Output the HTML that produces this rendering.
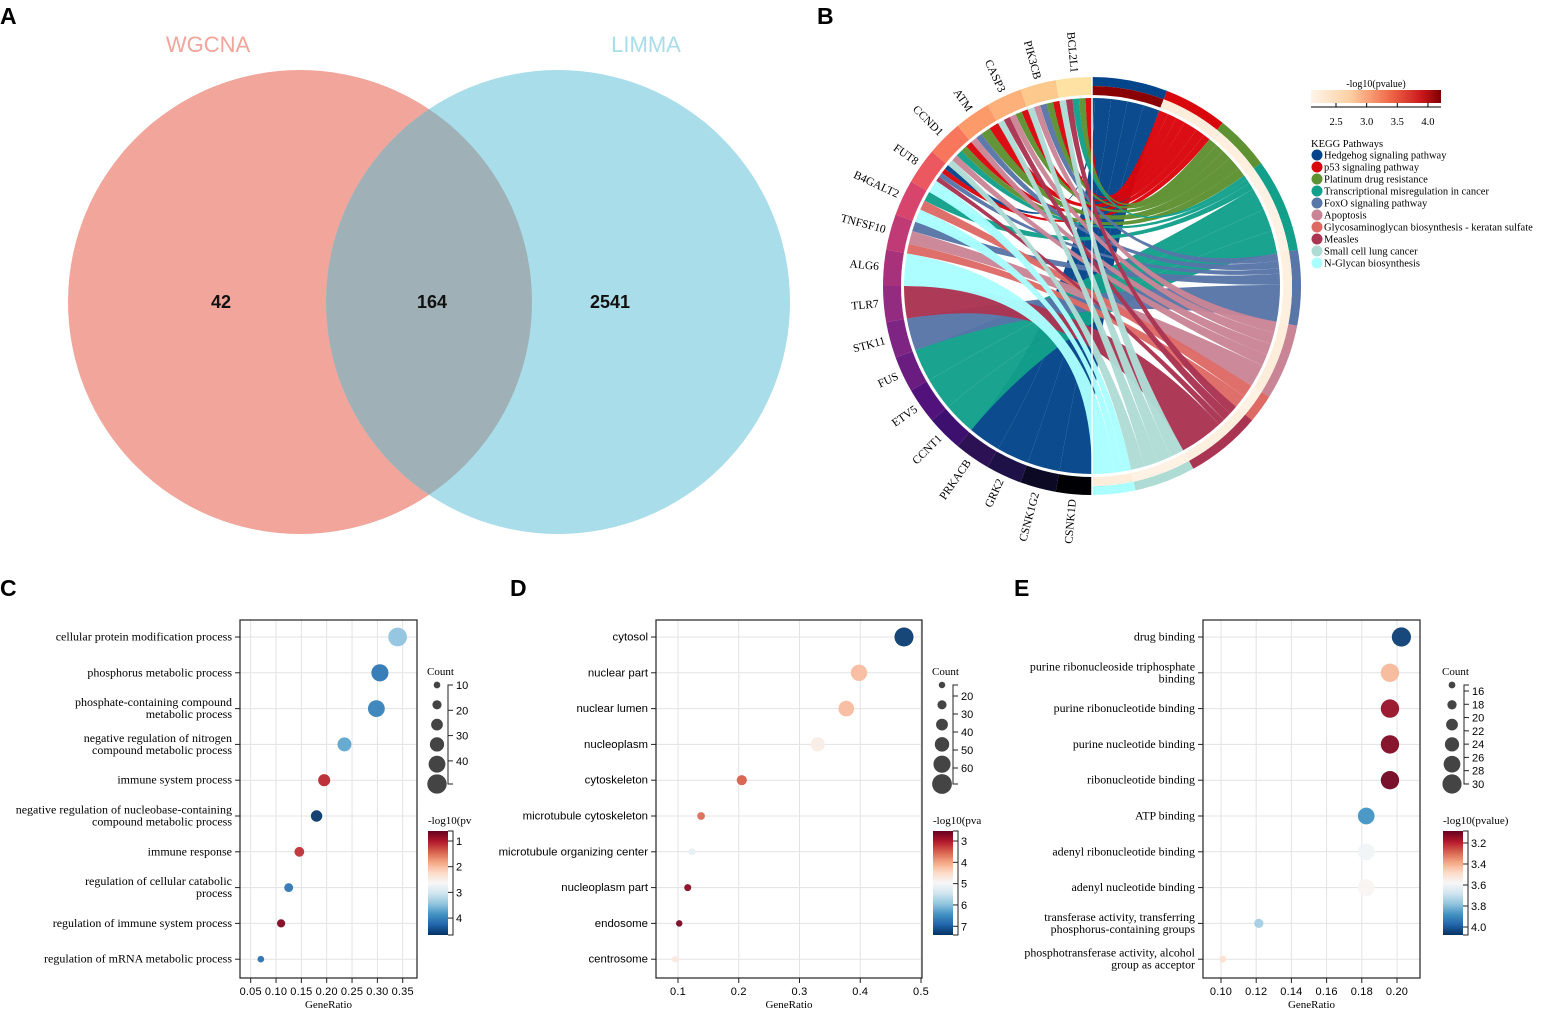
<!DOCTYPE html>
<html><head><meta charset="utf-8">
<style>
html,body{margin:0;padding:0;background:#fff;}
svg{display:block;}
.serif{font-family:"Liberation Serif",serif;}
.sans{font-family:"Liberation Sans",sans-serif;}
</style></head>
<body>
<svg id="fig" width="1549" height="1012" viewBox="0 0 1549 1012" xmlns="http://www.w3.org/2000/svg">
<defs>
<clipPath id="leftClip"><circle cx="300" cy="302" r="232"/></clipPath>
<linearGradient id="rdbuGrad" x1="0" y1="0" x2="0" y2="1">
<stop offset="0" stop-color="#67001f"/><stop offset="0.1" stop-color="#b2182b"/><stop offset="0.2" stop-color="#d6604d"/><stop offset="0.3" stop-color="#f4a582"/><stop offset="0.4" stop-color="#fddbc7"/><stop offset="0.5" stop-color="#f7f7f7"/><stop offset="0.6" stop-color="#d1e5f0"/><stop offset="0.7" stop-color="#92c5de"/><stop offset="0.8" stop-color="#4393c3"/><stop offset="0.9" stop-color="#2166ac"/><stop offset="1" stop-color="#053061"/>
</linearGradient>
<linearGradient id="redsGrad" x1="0" y1="0" x2="1" y2="0">
<stop offset="0" stop-color="#fff5eb"/><stop offset="0.3" stop-color="#fdd0a2"/><stop offset="0.6" stop-color="#f16b4a"/><stop offset="0.85" stop-color="#cb181d"/><stop offset="1" stop-color="#7f0000"/>
</linearGradient>
</defs>

<text x="0" y="24" class="sans" font-size="23" font-weight="bold">A</text>
<text x="817" y="24" class="sans" font-size="23" font-weight="bold">B</text>
<text x="0" y="596" class="sans" font-size="23" font-weight="bold">C</text>
<text x="510" y="596" class="sans" font-size="23" font-weight="bold">D</text>
<text x="1014" y="596" class="sans" font-size="23" font-weight="bold">E</text>

<g>
<circle cx="300" cy="302" r="232" fill="#f1a59b"/>
<circle cx="558" cy="302" r="232" fill="#a8dde9"/>
<circle cx="558" cy="302" r="232" fill="#9fb1b6" clip-path="url(#leftClip)"/>
<text x="208" y="52" text-anchor="middle" class="sans" font-size="22" fill="#f1a59b">WGCNA</text>
<text x="646" y="52" text-anchor="middle" class="sans" font-size="22" fill="#a8dde9">LIMMA</text>
<text x="221" y="308" text-anchor="middle" class="sans" font-size="18" font-weight="bold" fill="#111">42</text>
<text x="432" y="308" text-anchor="middle" class="sans" font-size="18" font-weight="bold" fill="#111">164</text>
<text x="610" y="308" text-anchor="middle" class="sans" font-size="18" font-weight="bold" fill="#111">2541</text>
</g>

<g id="chord"></g>
<g id="chordLegend">
<text x="1376" y="87" text-anchor="middle" class="serif" font-size="10">-log10(pvalue)</text>
<rect x="1311" y="90" width="130" height="13" fill="url(#redsGrad)"/>
</g>
<g id="panelC"></g>
<g id="panelD"></g>
<g id="panelE"></g>
</svg>

<script>
// ---------- Chord data ----------
const geneNames = ["CSNK1D","CSNK1G2","GRK2","PRKACB","CCNT1","ETV5","FUS","STK11","TLR7","ALG6","TNFSF10","B4GALT2","FUT8","CCND1","ATM","CASP3","PIK3CB","BCL2L1"];
const geneColors = ["#000004","#0b0924","#1d1147","#2d1155","#3d0f6e","#51127c","#6a1c81","#7e2482","#932b80","#a8317c","#c03a76","#d8456c","#ec5860","#f8765c","#fd9a6a","#feb07a","#fec98d","#fde2a4"];
const pathwayNames = ["Hedgehog signaling pathway","p53 signaling pathway","Platinum drug resistance","Transcriptional misregulation in cancer","FoxO signaling pathway","Apoptosis","Glycosaminoglycan biosynthesis - keratan sulfate","Measles","Small cell lung cancer","N-Glycan biosynthesis"];
const pathwayColors = ["#03458a","#d9060c","#5e9132","#13a08b","#5876a8","#c98596","#de6a66","#aa3553","#aedcd5","#aaffff"];
const pathwaySpan = [21,17.7,15.3,26,21,21,8,21,17,12];
const pathwayLogP = [4.2,2.3,2.25,2.2,2.25,2.3,2.2,2.25,2.2,2.3];
const linkGene =    [0,1,2,3,4,5,6,7,8,9, 10,10,10, 11,11,11, 12,12,12,12,12, 13,13,13,13,13, 14,14,14,14, 15,15,15,15,15, 16,16,16,16,16, 17,17,17,17,17];
const linkPathway = [0,0,0,0,3,3,3,4,7,9, 6,5,4, 9,6,3, 0,1,4,7,9, 1,2,3,5,8, 1,2,4,5, 1,2,5,7,8, 1,2,4,5,8, 1,2,3,7,8];
const linkWeight =  [10,10,10,10,10,10,10,10,10,10, 3,4,3, 4,3,3, 1.5,1.5,1.5,1.5,4, 2,2,2,2,2, 3,3,2,2, 2,2,2,2,2, 2,2,2,2,2, 2,2,2,2,2];

// ---------- Dot plot data ----------
const cTerms = ["cellular protein modification process","phosphorus metabolic process","phosphate-containing compound\nmetabolic process","negative regulation of nitrogen\ncompound metabolic process","immune system process","negative regulation of nucleobase-containing\ncompound metabolic process","immune response","regulation of cellular catabolic\nprocess","regulation of immune system process","regulation of mRNA metabolic process"];
const cRatio = [0.340,0.305,0.298,0.235,0.195,0.180,0.146,0.125,0.110,0.070];
const cCount = [48,43,42,33,27,25,20,17,15,10];
const cLogP = [3.45,4.1,4.0,3.7,1.1,4.6,1.15,4.1,0.75,4.15];
const cXTicks = [0.05,0.10,0.15,0.20,0.25,0.30,0.35];
const cXTickLabels = ["0.05","0.10","0.15","0.20","0.25","0.30","0.35"];
const cCountTicks = [10,20,30,40];
const cLegendCounts = [10,18,26,34,42,50];
const cColorTicks = [1,2,3,4];

const dTerms = ["cytosol","nuclear part","nuclear lumen","nucleoplasm","cytoskeleton","microtubule cytoskeleton","microtubule organizing center","nucleoplasm part","endosome","centrosome"];
const dRatio = [0.472,0.398,0.377,0.330,0.205,0.138,0.123,0.116,0.102,0.095];
const dCount = [66,55,52,46,29,19,17,16,14,13];
const dLogP = [7.3,4.2,4.2,4.8,3.5,3.6,5.2,2.75,2.65,4.7];
const dXTicks = [0.1,0.2,0.3,0.4,0.5];
const dXTickLabels = ["0.1","0.2","0.3","0.4","0.5"];
const dCountTicks = [20,30,40,50,60];
const dLegendCounts = [14,25,36,47,58,69];
const dColorTicks = [3,4,5,6,7];

const eTerms = ["drug binding","purine ribonucleoside triphosphate\nbinding","purine ribonucleotide binding","purine nucleotide binding","ribonucleotide binding","ATP binding","adenyl ribonucleotide binding","adenyl nucleotide binding","transferase activity, transferring\nphosphorus-containing groups","phosphotransferase activity, alcohol\ngroup as acceptor"];
const eRatio = [0.2025,0.196,0.196,0.196,0.196,0.1825,0.1825,0.1825,0.1215,0.101];
const eCount = [30,29,29,29,29,27,27,27,18,15];
const eLogP = [4.05,3.42,3.15,3.12,3.1,3.88,3.6,3.57,3.75,3.5];
const eXTicks = [0.10,0.12,0.14,0.16,0.18,0.20];
const eXTickLabels = ["0.10","0.12","0.14","0.16","0.18","0.20"];
const eCountTicks = [16,18,20,22,24,26,28,30];
const eLegendCounts = [15,18,21,24,27,30];
const eColorTicks = [3.2,3.4,3.6,3.8,4.0];

const NS = "http://www.w3.org/2000/svg";
function mk(parent, tag, attrs, text) {
  const el = document.createElementNS(NS, tag);
  for (const k in attrs) el.setAttribute(k, attrs[k]);
  if (text !== undefined) el.textContent = text;
  parent.appendChild(el);
  return el;
}
function hex2rgb(h){return [parseInt(h.slice(1,3),16),parseInt(h.slice(3,5),16),parseInt(h.slice(5,7),16)];}
function interp(stops, t){
  t=Math.max(0,Math.min(1,t));
  const n=stops.length-1, i=Math.min(n-1,Math.floor(t*n)), f=t*n-i;
  const a=hex2rgb(stops[i]), b=hex2rgb(stops[i+1]);
  return "rgb("+a.map((v,k)=>Math.round(v+(b[k]-v)*f)).join(",")+")";
}
const RDBU=["#67001f","#b2182b","#d6604d","#f4a582","#fddbc7","#f7f7f7","#d1e5f0","#92c5de","#4393c3","#2166ac","#053061"];
const REDS=["#fff5eb","#fee6ce","#fdd0a2","#fdae6b","#f16b4a","#cb181d","#7f0000"];

(function(){
  const g = document.getElementById("chord");
  const cx=1092, cy=286, R0=191, R1=209, Rc=188;
  const P=(a,r)=>[cx+r*Math.sin(a*Math.PI/180), cy-r*Math.cos(a*Math.PI/180)];
  function sector(a1,a2,r1,r2){
    const p1=P(a1,r2),p2=P(a2,r2),p3=P(a2,r1),p4=P(a1,r1);
    const la=(a2-a1)>180?1:0;
    return `M${p1[0]},${p1[1]} A${r2},${r2} 0 ${la} 1 ${p2[0]},${p2[1]} L${p3[0]},${p3[1]} A${r1},${r1} 0 ${la} 0 ${p4[0]},${p4[1]} Z`;
  }
  const nG=geneNames.length, gSpan=180/nG;
  const pStart=[]; let acc=0;
  pathwaySpan.forEach((s,i)=>{pStart.push(acc); acc+=s;});
  const pScale=180/acc;
  const gTot=new Array(nG).fill(0), pTot=new Array(pathwayNames.length).fill(0);
  linkWeight.forEach((w,i)=>{gTot[linkGene[i]]+=w; pTot[linkPathway[i]]+=w;});
  const idx=linkWeight.map((_,i)=>i);
  const gA={}, pA={};
  for(let gi=0;gi<nG;gi++){
    let a=180+gi*gSpan;
    idx.filter(i=>linkGene[i]===gi).sort((x,y)=>linkPathway[y]-linkPathway[x]).forEach(i=>{
      const s=linkWeight[i]/gTot[gi]*gSpan; gA[i]=[a,a+s]; a+=s;});
  }
  for(let pi=0;pi<pathwayNames.length;pi++){
    let a=pStart[pi]*pScale;
    const span=pathwaySpan[pi]*pScale;
    idx.filter(i=>linkPathway[i]===pi).sort((x,y)=>linkGene[y]-linkGene[x]).forEach(i=>{
      const s=linkWeight[i]/pTot[pi]*span; pA[i]=[a,a+s]; a+=s;});
  }
  idx.forEach(i=>{
    const [a1,a2]=gA[i],[b1,b2]=pA[i];
    const A1=P(a1,Rc),A2=P(a2,Rc),B1=P(b1,Rc),B2=P(b2,Rc);
    const d=`M${A1} A${Rc},${Rc} 0 0 1 ${A2} Q${cx},${cy} ${B1} A${Rc},${Rc} 0 0 1 ${B2} Q${cx},${cy} ${A1} Z`;
    const el=mk(g,"path",{d:d,fill:pathwayColors[linkPathway[i]],"fill-opacity":"0.97"});
    
    
  });
  geneNames.forEach((name,gi)=>{
    const a1=180+gi*gSpan, a2=a1+gSpan;
    const s=mk(g,"path",{d:sector(a1,a2,R0,R1),fill:geneColors[gi]});
    
    
    const am=(a1+a2)/2, p=P(am,R1+5);
    const rad=am*Math.PI/180;
    const rot=Math.atan2(Math.cos(rad),-Math.sin(rad))*180/Math.PI;
    const t=mk(g,"text",{x:p[0],y:p[1],"text-anchor":"end","dominant-baseline":"middle","font-size":"11.5",class:"serif",transform:`rotate(${rot} ${p[0]} ${p[1]})`},name);
    
    
  });
  pathwayNames.forEach((name,pi)=>{
    const a1=pStart[pi]*pScale, a2=a1+pathwaySpan[pi]*pScale;
    const o=mk(g,"path",{d:sector(a1,a2,200,R1),fill:pathwayColors[pi]});
    
    
    const t=(pathwayLogP[pi]-2.1)/(4.25-2.1);
    const inner=mk(g,"path",{d:sector(a1,a2,R0,200),fill:interp(REDS,t)});
    
    
  });
  mk(g,"line",{x1:cx,y1:cy-R1,x2:cx,y2:cy+R1,stroke:"#fff","stroke-width":"1.5"});
  const L=document.getElementById("chordLegend");
  const ticks=[2.5,3.0,3.5,4.0];
  const tx=v=>1336+(v-2.5)*61.3;
  mk(L,"line",{x1:1311,y1:107,x2:1441,y2:107,stroke:"#000","stroke-width":"1"});
  ticks.forEach(v=>{
    mk(L,"line",{x1:tx(v),y1:103,x2:tx(v),y2:107,stroke:"#000"});
    const t=mk(L,"text",{x:tx(v),y:125,"text-anchor":"middle","font-size":"10.5",class:"serif"},v.toFixed(1));
    
    
  });
  const tt=mk(L,"text",{x:1311,y:147,"font-size":"10.5",class:"serif"},"KEGG Pathways");
  
  
  pathwayNames.forEach((name,pi)=>{
    const y=155+pi*12;
    const c=mk(L,"circle",{cx:1317,cy:y,r:5.5,fill:pathwayColors[pi]});
    
    
    const t=mk(L,"text",{x:1324,y:y+3.5,"font-size":"10.5",class:"serif"},name);
    
    
  });
})();

function dotPlot(gid, terms, ratio, count, logp, xTicks, xTickLabels, cfg){
  const g=document.getElementById(gid);
  const xs=v=>cfg.x0px+(v-cfg.x0v)*cfg.pxPer;
  const ys=i=>637+i*35.8;
  const rs=c=>3+(c-cfg.cmin)/(cfg.cmax-cfg.cmin)*7;
  const col=v=>interp(RDBU,(v-cfg.vTop)/(cfg.vBot-cfg.vTop));
  xTicks.forEach(v=>mk(g,"line",{x1:xs(v),y1:cfg.by0,x2:xs(v),y2:cfg.by1,stroke:"#e3e3e3","stroke-width":"1"}));
  terms.forEach((_,i)=>mk(g,"line",{x1:cfg.bx0,y1:ys(i),x2:cfg.bx1,y2:ys(i),stroke:"#e3e3e3","stroke-width":"1"}));
  const box=mk(g,"rect",{x:cfg.bx0,y:cfg.by0,width:cfg.bx1-cfg.bx0,height:cfg.by1-cfg.by0,fill:"none",stroke:"#222","stroke-width":"1.2"});
  
  
  terms.forEach((term,i)=>{
    const y=ys(i);
    mk(g,"line",{x1:cfg.bx0-5,y1:y,x2:cfg.bx0,y2:y,stroke:"#222"});
    const lines=term.split("\n");
    const t=mk(g,"text",{x:cfg.bx0-8,y:y+3.5-(lines.length-1)*6,"text-anchor":"end","font-size":cfg.labelSize,class:cfg.labelClass});
    lines.forEach((ln,k)=>mk(t,"tspan",{x:cfg.bx0-8,dy:k===0?0:12},ln));
    
    
  });
  xTicks.forEach((v,k)=>{
    mk(g,"line",{x1:xs(v),y1:cfg.by1,x2:xs(v),y2:cfg.by1+5,stroke:"#222"});
    const t=mk(g,"text",{x:xs(v),y:995,"text-anchor":"middle","font-size":"11","letter-spacing":"0.2",class:"sans"},xTickLabels[k]);
    
    
  });
  const xt=mk(g,"text",{x:(cfg.bx0+cfg.bx1)/2,y:1008,"text-anchor":"middle","font-size":"11",class:"serif"},"GeneRatio");
  
  
  ratio.forEach((v,i)=>{
    const c=mk(g,"circle",{cx:xs(v),cy:ys(i),r:rs(count[i]),fill:col(logp[i]),"fill-opacity":"0.95"});
    
    
  });
  const ct=mk(g,"text",{x:cfg.lx-10,y:675,"font-size":"11",class:"serif"},"Count");
  
  
  cfg.legendCounts.forEach((c,k)=>{
    const e=mk(g,"circle",{cx:cfg.lx,cy:685+k*19.8,r:rs(c),fill:"#444"});
    
    
  });
  const ly=c=>cfg.cTickY0+(c-cfg.countTicks[0])*cfg.cTickPer;
  mk(g,"polyline",{points:`${cfg.ax+5},685 ${cfg.ax},685 ${cfg.ax},784 ${cfg.ax+5},784`,fill:"none",stroke:"#222"});
  cfg.countTicks.forEach(c=>{
    mk(g,"line",{x1:cfg.ax,y1:ly(c),x2:cfg.ax+5,y2:ly(c),stroke:"#222"});
    const t=mk(g,"text",{x:cfg.ax+8,y:ly(c)+4,"font-size":"11",class:"sans"},String(c));
    
    
  });
  const cbt=mk(g,"text",{x:cfg.cbx,y:824,"font-size":"11",class:"serif"},cfg.cbTitle);
  
  
  const cb=mk(g,"rect",{x:cfg.cbx,y:831,width:20,height:104,fill:"url(#rdbuGrad)"});
  
  
  mk(g,"polyline",{points:`${cfg.cbx+20},831 ${cfg.cbx+25},831 ${cfg.cbx+25},935 ${cfg.cbx+20},935`,fill:"none",stroke:"#222"});
  const cy=v=>831+(v-cfg.vTop)/(cfg.vBot-cfg.vTop)*104;
  cfg.colorTicks.forEach(v=>{
    mk(g,"line",{x1:cfg.cbx+20,y1:cy(v),x2:cfg.cbx+25,y2:cy(v),stroke:"#222"});
    const t=mk(g,"text",{x:cfg.cbx+28,y:cy(v)+4,"font-size":"11",class:"sans"},cfg.colorFmt(v));
    
    
  });
}
dotPlot("panelC",cTerms,cRatio,cCount,cLogP,cXTicks,cXTickLabels,{
  bx0:240,bx1:417,by0:620,by1:978,x0px:250.7,x0v:0.05,pxPer:506.7,cmin:8,cmax:52,
  vTop:0.61,vBot:4.66,labelSize:"12",labelClass:"serif",lx:437,ax:448,
  legendCounts:cLegendCounts,countTicks:cCountTicks,cTickY0:685,cTickPer:2.53,
  cbx:428,cbTitle:"-log10(pv",colorTicks:cColorTicks,colorFmt:v=>String(v)});
dotPlot("panelD",dTerms,dRatio,dCount,dLogP,dXTicks,dXTickLabels,{
  bx0:656,bx1:922,by0:620,by1:978,x0px:678,x0v:0.1,pxPer:607.5,cmin:12,cmax:70,
  vTop:2.53,vBot:7.41,labelSize:"11.4",labelClass:"sans",lx:942,ax:953,
  legendCounts:dLegendCounts,countTicks:dCountTicks,cTickY0:696,cTickPer:1.8,
  cbx:933,cbTitle:"-log10(pva",colorTicks:dColorTicks,colorFmt:v=>String(v)});
dotPlot("panelE",eTerms,eRatio,eCount,eLogP,eXTicks,eXTickLabels,{
  bx0:1203,bx1:1420,by0:620,by1:978,x0px:1221,x0v:0.10,pxPer:1760,cmin:14,cmax:31,
  vTop:3.086,vBot:4.076,labelSize:"11.9",labelClass:"serif",lx:1452,ax:1464,
  legendCounts:eLegendCounts,countTicks:eCountTicks,cTickY0:691,cTickPer:6.64,
  cbx:1443,cbTitle:"-log10(pvalue)",colorTicks:eColorTicks,colorFmt:v=>v.toFixed(1)});
</script>
</body></html>
